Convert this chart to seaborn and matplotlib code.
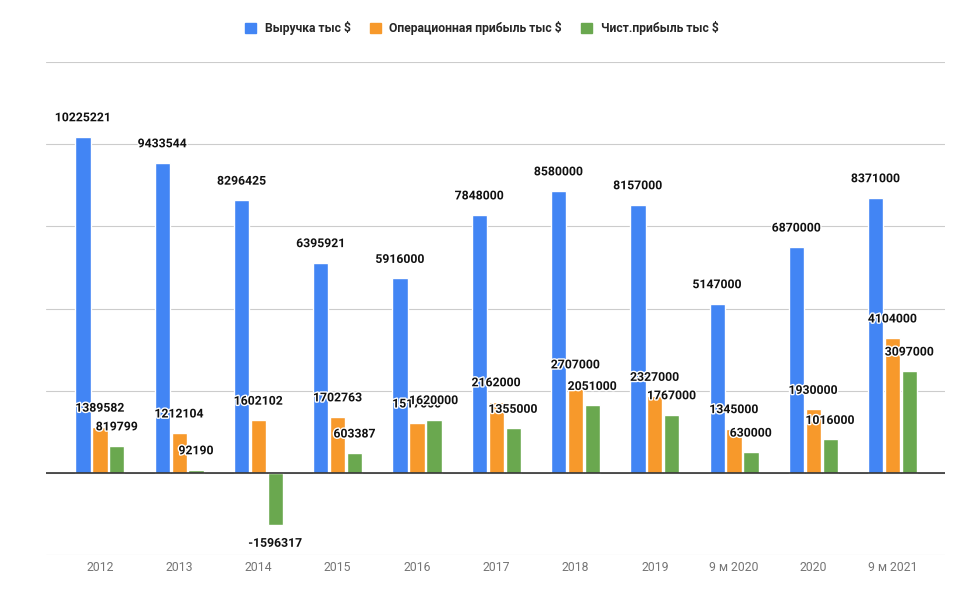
import matplotlib
matplotlib.use("Agg")
import matplotlib.pyplot as plt
import matplotlib.patheffects as pe
import seaborn as sns
import pandas as pd

categories = ["2012", "2013", "2014", "2015", "2016", "2017", "2018", "2019",
              "9 м 2020", "2020", "9 м 2021"]
revenue = [10225221, 9433544, 8296425, 6395921, 5916000, 7848000, 8580000,
           8157000, 5147000, 6870000, 8371000]
op_profit = [1389582, 1212104, 1602102, 1702763, 1517000, 2162000, 2707000,
             2327000, 1345000, 1930000, 4104000]
net_profit = [819799, 92190, -1596317, 603387, 1620000, 1355000, 2051000,
              1767000, 630000, 1016000, 3097000]
series_names = ["Выручка тыс $", "Операционная прибыль тыс $", "Чист.прибыль тыс $"]
colors = ["#4285F4", "#F7992B", "#6AA84F"]

rows = []
for name, vals in zip(series_names, [revenue, op_profit, net_profit]):
    for c, v in zip(categories, vals):
        rows.append({"cat": c, "series": name, "value": v})
df = pd.DataFrame(rows)

sns.set_theme(style="white")
plt.rcParams["font.family"] = ["Roboto", "DejaVu Sans"]

fig = plt.figure(figsize=(9.58, 5.98), dpi=100)
ax = fig.add_axes([0.048, 0.0719, 0.9384, 0.8244])

sns.barplot(data=df, x="cat", y="value", hue="series", palette=colors,
            width=0.64, gap=0.1, ax=ax, saturation=1, legend=True,
            order=categories, hue_order=series_names, errorbar=None)

ax.set_ylim(-2500000, 12500000)
ax.set_xlim(-0.68, 10.66)
ax.set_yticks([-2500000, 0, 2500000, 5000000, 7500000, 10000000, 12500000])
ax.set_yticklabels([])
ax.tick_params(axis="y", length=0)
ax.grid(axis="y", color="#cccccc", lw=0.8)
ax.set_axisbelow(True)
ax.axhline(0, color="#333333", lw=1.2, zorder=3)
for s in ax.spines.values():
    s.set_visible(False)
ax.set_xlabel("")
ax.set_ylabel("")
ax.tick_params(axis="x", length=0, pad=4, labelsize=8.8, labelcolor="#757575")

# data labels
for cont in ax.containers:
    for bar in cont:
        y0 = bar.get_y()
        y1 = y0 + bar.get_height()
        top, bot = max(y0, y1), min(y0, y1)
        if bot < 0:
            value, anchor, off = bot, bot, -18
        else:
            value, anchor, off = top, top, 19
        ax.annotate(f"{int(round(value))}", (bar.get_x() + bar.get_width() / 2, anchor),
                    xytext=(0, off * 0.72), textcoords="offset points",
                    ha="center", va="center", fontsize=8.8, fontweight="bold",
                    color="#111111", zorder=5,
                    path_effects=[pe.withStroke(linewidth=2, foreground="white")])

leg = ax.get_legend()
leg.remove()
handles = [plt.Rectangle((0, 0), 1, 1, color=c) for c in colors]
fig.legend(handles, series_names, loc="center", bbox_to_anchor=(0.503, 0.953),
           ncol=3, frameon=False, handlelength=0.9, handleheight=0.9,
           handletextpad=0.7, columnspacing=1.6,
           prop={"weight": "bold", "size": 8.7, "family": ["Roboto", "DejaVu Sans"]})

fig.savefig("out.png", dpi=100, facecolor="white")
